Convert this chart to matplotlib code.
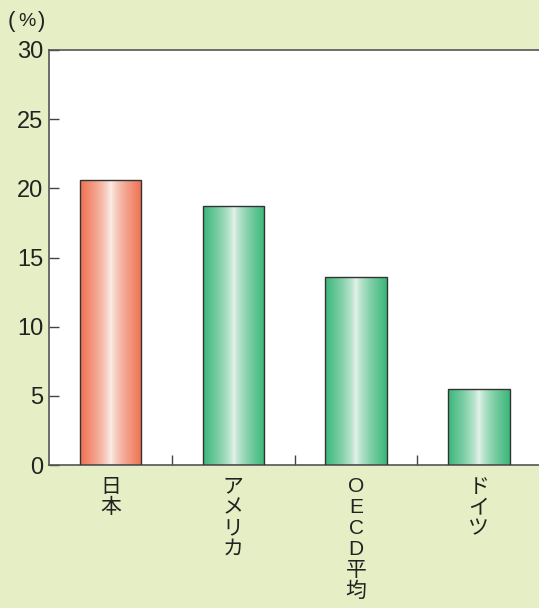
import numpy as np
import matplotlib
matplotlib.use("Agg")
import matplotlib.pyplot as plt
from matplotlib.colors import LinearSegmentedColormap

plt.rcParams['font.family'] = ['Liberation Sans', 'Noto Sans CJK JP', 'DejaVu Sans']

# --- datos ---
paises = ['日本', 'アメリカ', 'OECD平均', 'ドイツ']
valores = [20.6, 18.7, 13.6, 5.5]
colores_borde = ['#F07152', '#3BB77A', '#3BB77A', '#3BB77A']
y_ticks = [0, 5, 10, 15, 20, 25, 30]

fondo = '#E6EEC5'

fig = plt.figure(figsize=(5.39, 6.08), dpi=100, facecolor=fondo)
ax = fig.add_axes([49 / 539, 1 - 465 / 608, 1 - 49 / 539, (465 - 50) / 608])
ax.set_facecolor('white')

x = np.arange(len(paises))
barras = ax.bar(x, valores, width=0.5, color='none', edgecolor='#333333', linewidth=1.0, zorder=3)

# degradado horizontal: color en los bordes, casi blanco en el centro
t = np.linspace(0, 1, 256)
perfil = np.abs(t - 0.5) * 2
perfil = perfil ** 0.7
for barra, c in zip(barras, colores_borde):
    cmap = LinearSegmentedColormap.from_list('g', ['#FBF1EC' if c == '#F07152' else '#E8F4EC', c])
    x0 = barra.get_x()
    w = barra.get_width()
    h = barra.get_height()
    im = ax.imshow(perfil[np.newaxis, :], cmap=cmap, aspect='auto',
                   extent=[x0, x0 + w, 0, h], zorder=2, vmin=0, vmax=1)
    im.set_clip_path(barra)

ax.set_xlim(-0.5, 3.49)
ax.set_ylim(0, 30)

# ticks del eje y
ax.set_yticks(y_ticks)
ax.set_yticklabels([str(v) for v in y_ticks], fontsize=17, color='#222222')
ax.tick_params(axis='y', direction='in', length=7, width=1, color='#444444', pad=4)

# ticks del eje x: marcas entre categorías, etiquetas en el centro
ax.set_xticks(x[:-1] + 0.5)
ax.set_xticklabels([])
ax.tick_params(axis='x', which='major', direction='in', length=7, width=1, color='#444444')
ax.set_xticks(x, minor=True)
ax.set_xticklabels(['\n'.join(p) for p in paises], minor=True, fontsize=15,
                   color='#222222', linespacing=1.12, va='top')
ax.tick_params(axis='x', which='minor', length=0, pad=9)

for lado in ['left', 'bottom', 'top']:
    ax.spines[lado].set_color('#555555')
    ax.spines[lado].set_linewidth(1.2)
ax.spines['right'].set_visible(False)

# unidad (%) con paréntesis altos y separados
yu = 1 - 21 / 608
fig.text(8 / 539, yu, '(', fontsize=16, color='#222222', va='center', ha='left')
fig.text(26.5 / 539, yu, '%', fontsize=14, color='#222222', va='center', ha='center')
fig.text(45 / 539, yu, ')', fontsize=16, color='#222222', va='center', ha='right')

plt.savefig('out.png', dpi=100, facecolor=fondo)
